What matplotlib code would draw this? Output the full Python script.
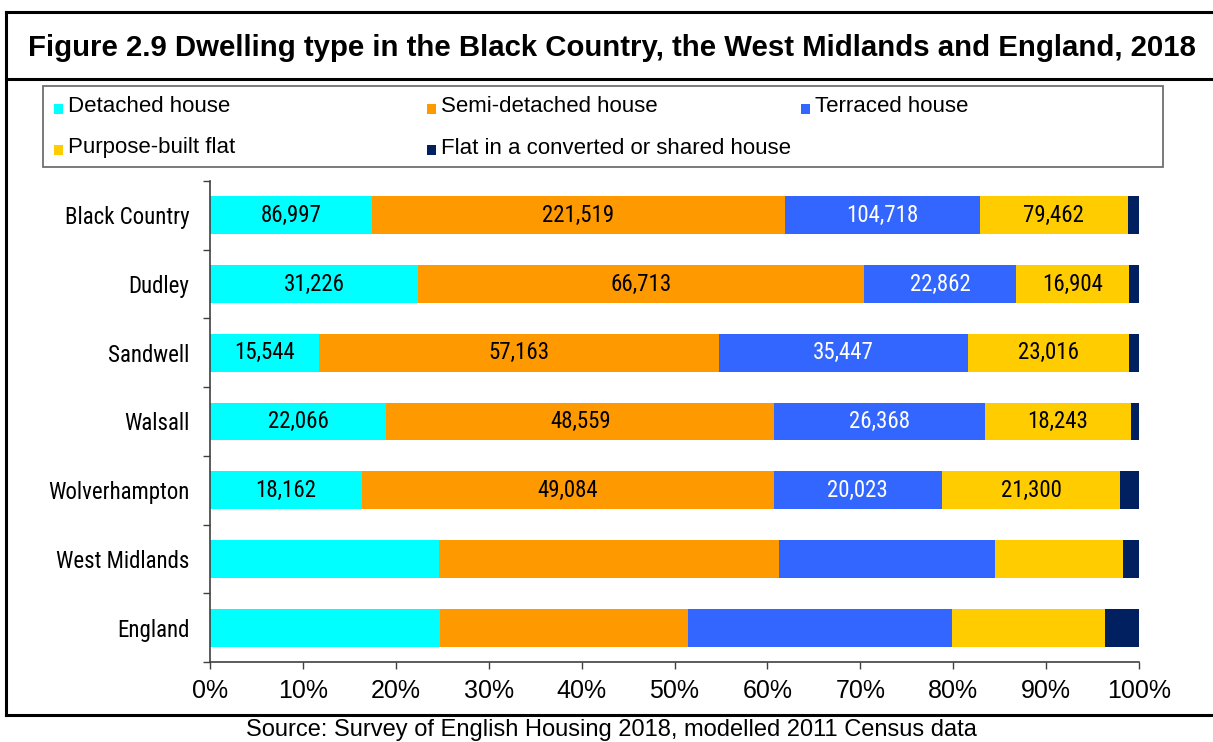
import matplotlib
matplotlib.use("Agg")
import matplotlib.pyplot as plt
from matplotlib.patches import Rectangle
from matplotlib.lines import Line2D
import numpy as np

# ---------------- data ----------------
categories = ["Black Country", "Dudley", "Sandwell", "Walsall",
              "Wolverhampton", "West Midlands", "England"]
series_names = ["Detached house", "Semi-detached house", "Terraced house",
                "Purpose-built flat", "Flat in a converted or shared house"]
# counts for local areas; West Midlands and England given as percentage shares
detached      = [86997, 31226, 15544, 22066, 18162, 24.6, 24.8]
semi_detached = [221519, 66713, 57163, 48559, 49084, 36.6, 26.7]
terraced      = [104718, 22862, 35447, 26368, 20023, 23.3, 28.4]
purpose_flat  = [79462, 16904, 23016, 18243, 21300, 13.8, 16.4]
converted     = [6150, 1450, 1470, 1000, 2230, 1.7, 3.7]
labelled_rows = [True, True, True, True, True, False, False]
labelled_series = [True, True, True, True, False]

colors = ["#00FFFF", "#FF9900", "#3366FF", "#FFCC00", "#002060"]
label_colors = ["black", "black", "white", "black", "white"]

title = "Figure 2.9 Dwelling type in the Black Country, the West Midlands and England, 2018"
source = "Source: Survey of English Housing 2018, modelled 2011 Census data"
xticks = [0, 10, 20, 30, 40, 50, 60, 70, 80, 90, 100]

# ---------------- figure ----------------
W, H = 1213, 742
fig = plt.figure(figsize=(W / 100, H / 100), dpi=100)

REG = ["Liberation Sans", "Arial", "DejaVu Sans"]
NARROW = ["Roboto Condensed", "Archivo Narrow", "Liberation Sans", "DejaVu Sans"]

def fx(px):
    return px / W

def fy(py):
    return 1 - py / H

ax = fig.add_axes([fx(210), fy(662), fx(1139) - fx(210), fy(181) - fy(662)])

data = np.array([detached, semi_detached, terraced, purpose_flat, converted], dtype=float)
totals = data.sum(axis=0)
shares = data / totals * 100
y = np.arange(len(categories))
left = np.zeros(len(categories))
for i, name in enumerate(series_names):
    ax.barh(y, shares[i], left=left, height=0.55, color=colors[i],
            edgecolor="none", label=name, zorder=2)
    if labelled_series[i]:
        for j in range(len(categories)):
            if labelled_rows[j]:
                ax.text(left[j] + shares[i][j] / 2, y[j], f"{int(data[i][j]):,}",
                        ha="center", va="center", color=label_colors[i],
                        fontsize=16.5, family=NARROW, zorder=3)
    left += shares[i]

ax.set_xlim(0, 100)
ax.set_ylim(len(categories) - 0.5, -0.5)
ax.set_xticks(xticks)
ax.set_xticklabels([f"{v}%" for v in xticks], family=REG, fontsize=18)
ax.set_yticks(y)
ax.set_yticklabels(categories, family=NARROW, fontsize=16.5)
ax.set_yticks(np.arange(-0.5, len(categories), 1.0), minor=True)
ax.tick_params(axis="y", which="major", length=0, pad=15)
ax.tick_params(axis="y", which="minor", length=5, width=1, color="#404040", direction="out")
ax.tick_params(axis="x", which="major", length=5, width=1, color="#404040",
               direction="out", pad=7)
for s in ["top", "right"]:
    ax.spines[s].set_visible(False)
for s in ["left", "bottom"]:
    ax.spines[s].set_color("#404040")
    ax.spines[s].set_linewidth(1.2)

# ---------------- frame ----------------
lw = 2.2
fig.add_artist(Line2D([fx(6), fx(6)], [fy(12), fy(715)], color="black", lw=lw))
fig.add_artist(Line2D([fx(6), 1.01], [fy(12), fy(12)], color="black", lw=lw))
fig.add_artist(Line2D([fx(6), 1.01], [fy(79), fy(79)], color="black", lw=lw))
fig.add_artist(Line2D([fx(6), 1.01], [fy(715), fy(715)], color="black", lw=lw))

fig.text(fx(612), fy(48), title, ha="center", va="center", fontsize=21.2,
         fontweight="bold", family=REG)
fig.text(fx(611), fy(730), source, ha="center", va="center", fontsize=17,
         family=REG)

# ---------------- legend ----------------
fig.add_artist(Rectangle((fx(43), fy(167)), fx(1163) - fx(43), fy(86) - fy(167),
                         transform=fig.transFigure, fill=False,
                         edgecolor="#707070", lw=1.3))
leg_pos = [(54, 107), (427, 107), (801, 107), (54, 148), (427, 148)]
for i, name in enumerate(series_names):
    mx, my = leg_pos[i]
    fig.add_artist(Rectangle((fx(mx), fy(my + 7)), fx(9), 10 / H,
                             transform=fig.transFigure, facecolor=colors[i],
                             edgecolor="none"))
    fig.text(fx(mx + 14), fy(my), name, ha="left", va="center", fontsize=16,
             family=REG)

fig.savefig("out.png", dpi=100)
